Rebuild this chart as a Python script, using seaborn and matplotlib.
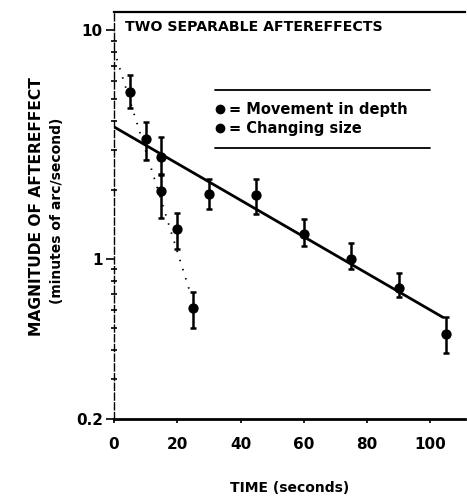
import numpy as np
import pandas as pd
import matplotlib
matplotlib.use("Agg")
import matplotlib.pyplot as plt
import seaborn as sns
from matplotlib.lines import Line2D
from matplotlib.ticker import LogLocator, NullFormatter, FixedLocator

sns.set_style("ticks")
plt.rcParams['font.family'] = ['DejaVu Sans']
plt.rcParams.update({"text.color": "black", "axes.labelcolor": "black",
                     "xtick.color": "black", "ytick.color": "black",
                     "axes.edgecolor": "black"})

# ---- data ----
depth_time = [10, 15, 30, 45, 60, 75, 90, 105]
depth_mag = [3.34, 2.78, 1.92, 1.90, 1.29, 1.00, 0.75, 0.47]
depth_lo = [2.71, 2.33, 1.65, 1.58, 1.14, 0.90, 0.68, 0.39]
depth_hi = [3.95, 3.40, 2.23, 2.24, 1.49, 1.17, 0.87, 0.556]

size_time = [5, 15, 20, 25]
size_mag = [5.38, 1.99, 1.35, 0.61]
size_lo = [4.56, 1.51, 1.11, 0.50]
size_hi = [6.36, 2.35, 1.59, 0.716]

# fitted lines (end points of the drawn fits)
depth_fit_time = [0, 104]
depth_fit_mag = [3.78, 0.556]
size_fit_time = [0, 24]
size_fit_mag = [8.2, 0.72]

x_ticks = [0, 20, 40, 60, 80, 100]
y_ticks = [0.2, 1, 10]
y_tick_labels = ["0.2", "1", "10"]

title = "TWO SEPARABLE AFTEREFFECTS"
legend_labels = ["= Movement in depth", "= Changing size"]

depth = pd.DataFrame({"time": depth_time, "mag": depth_mag})
size = pd.DataFrame({"time": size_time, "mag": size_mag})

fig = plt.figure(figsize=(4.67, 5.0), dpi=100)
ax = fig.add_axes([0.244, 0.162, 0.752, 0.814])
ax.set_yscale("log")

# fit lines
sns.lineplot(x=depth_fit_time, y=depth_fit_mag, ax=ax, color="black", lw=2.0)
sns.lineplot(x=size_fit_time, y=size_fit_mag, ax=ax, color="black", lw=1.3,
             linestyle=(0, (0.8, 4.5)))

# error bars
for t, m, lo, hi in zip(depth_time + size_time, depth_mag + size_mag,
                        depth_lo + size_lo, depth_hi + size_hi):
    ax.errorbar([t], [m], yerr=[[m - lo], [hi - m]], fmt="none",
                ecolor="black", elinewidth=1.8, capsize=2.2, capthick=1.8)

sns.scatterplot(data=depth, x="time", y="mag", ax=ax, color="black",
                marker="o", s=55, edgecolor="black", linewidth=0, zorder=5)
sns.scatterplot(data=size, x="time", y="mag", ax=ax, color="black",
                marker="o", s=55, edgecolor="black", linewidth=0, zorder=5)

ax.set_xlim(0, 111)
ax.set_ylim(0.2, 12)
ax.yaxis.set_major_locator(FixedLocator(y_ticks))
ax.set_yticklabels(y_tick_labels)
ax.yaxis.set_minor_locator(LogLocator(base=10, subs=np.arange(2, 10)))
ax.yaxis.set_minor_formatter(NullFormatter())
ax.set_xticks(x_ticks)
ax.set_xticklabels([str(v) for v in x_ticks])

ax.spines["right"].set_visible(False)
ax.spines["left"].set_linestyle((0, (5, 2)))
ax.spines["left"].set_linewidth(1.0)
ax.spines["bottom"].set_linewidth(2.0)
ax.spines["top"].set_linewidth(1.6)

ax.tick_params(axis="y", which="major", direction="out", length=6, width=1.2,
               labelsize=11, pad=2)
ax.tick_params(axis="y", which="minor", direction="inout", length=5, width=1.2)
ax.tick_params(axis="x", which="major", direction="out", length=3, width=1.2,
               labelsize=11, pad=10)
for lab in ax.get_xticklabels() + ax.get_yticklabels():
    lab.set_fontweight("bold")

ax.set_xlabel("TIME (seconds)", fontsize=10, fontweight="bold", labelpad=21)
ax.set_ylabel("")

fig.text(0.079, 0.586, "MAGNITUDE OF AFTEREFFECT", rotation=90, ha="center",
         va="center", fontsize=11.2, fontweight="bold")
fig.text(0.122, 0.578, "(minutes of arc/second)", rotation=90, ha="center",
         va="center", fontsize=10, fontweight="bold")

ax.text(0.031, 0.962, title, transform=ax.transAxes, ha="left", va="center",
        fontsize=10.2, fontweight="bold")

# legend with rule lines above and below
ax.plot([0.288, 0.90], [0.808, 0.808], transform=ax.transAxes, color="black", lw=1.3)
ax.plot([0.288, 0.90], [0.666, 0.666], transform=ax.transAxes, color="black", lw=1.3)
handles = [Line2D([], [], marker="o", color="black", ls="none", markersize=6),
           Line2D([], [], marker="o", color="black", ls="none", markersize=6)]
leg = ax.legend(handles, legend_labels, loc="center left",
                bbox_to_anchor=(0.255, 0.736), frameon=False, fontsize=10.5,
                handletextpad=0.05, labelspacing=0.28, handlelength=1.2,
                borderpad=0)
for t in leg.get_texts():
    t.set_fontweight("bold")

fig.savefig("out.png", dpi=100)
